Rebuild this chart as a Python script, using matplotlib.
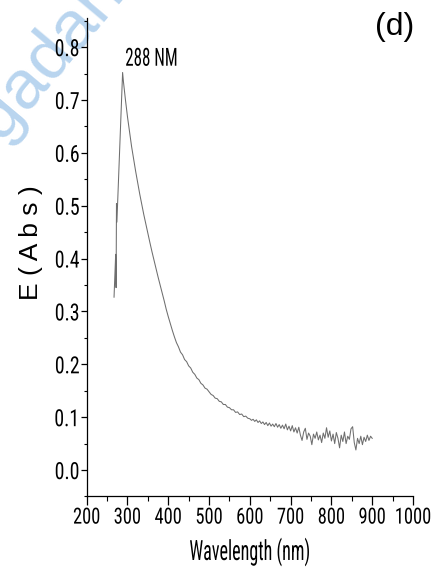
import os
import matplotlib
matplotlib.use("Agg")
import matplotlib.pyplot as plt
from matplotlib import font_manager
from matplotlib.patheffects import AbstractPathEffect
from matplotlib.ticker import MultipleLocator
from matplotlib.transforms import Affine2D

# absorbance spectrum (wavelength in nm, absorbance in a.u.)
wl_start = [267, 269, 271, 272, 273, 274, 277, 281, 285]
abs_start = [0.327, 0.368, 0.408, 0.345, 0.504, 0.469, 0.529, 0.610, 0.690]

wl_main = [288, 290, 295, 300, 305, 310, 315, 320, 325, 330, 335, 340, 345,
           350, 355, 360, 365, 370, 375, 380, 385, 390, 395, 400, 405, 410,
           415, 420, 425, 430, 435, 440, 445, 450, 455, 460, 465, 470, 475,
           480, 485, 490, 495, 500, 505, 510, 515, 520, 525, 530, 535, 540,
           545, 550, 555, 560, 565, 570, 575, 580, 585, 590, 595]
abs_main = [0.752, 0.735, 0.700, 0.668, 0.640, 0.612, 0.588, 0.565, 0.543,
            0.522, 0.502, 0.483, 0.465, 0.447, 0.430, 0.413, 0.397, 0.381,
            0.365, 0.350, 0.335, 0.320, 0.304, 0.290, 0.277, 0.264, 0.252,
            0.241, 0.233, 0.223, 0.218, 0.209, 0.205, 0.197, 0.193, 0.185,
            0.181, 0.174, 0.171, 0.164, 0.161, 0.155, 0.153, 0.148, 0.143,
            0.141, 0.136, 0.135, 0.130, 0.129, 0.124, 0.124, 0.119, 0.118,
            0.114, 0.114, 0.109, 0.110, 0.105, 0.106, 0.101, 0.102, 0.098]

wl_tail = [600, 604, 608, 612, 616, 620, 624, 628, 632, 636, 640, 644, 648,
           652, 656, 660, 664, 668, 672, 676, 680, 684, 688, 692, 696, 700,
           704, 708, 712, 716, 720, 724, 728, 732, 736, 740, 744, 748, 752,
           756, 760, 764, 768, 772, 776, 780, 784, 788, 792, 796, 800, 804,
           808, 812, 816, 820, 824, 828, 832, 836, 840, 844, 848, 852, 856,
           860, 864, 868, 872, 876, 880, 884, 888, 892, 896, 900]
abs_tail = [0.097, 0.094, 0.096, 0.092, 0.095, 0.090, 0.093, 0.088, 0.091,
            0.086, 0.090, 0.084, 0.089, 0.083, 0.087, 0.082, 0.088, 0.081,
            0.086, 0.079, 0.085, 0.078, 0.087, 0.076, 0.083, 0.074, 0.084,
            0.072, 0.080, 0.070, 0.081, 0.066, 0.056, 0.072, 0.079, 0.058,
            0.070, 0.064, 0.048, 0.068, 0.060, 0.072, 0.057, 0.066, 0.052,
            0.070, 0.060, 0.080, 0.062, 0.074, 0.055, 0.068, 0.050, 0.071,
            0.060, 0.042, 0.066, 0.054, 0.072, 0.050, 0.064, 0.058, 0.078,
            0.082, 0.052, 0.038, 0.060, 0.050, 0.064, 0.048, 0.062, 0.054,
            0.066, 0.056, 0.064, 0.060]

peak_wl = 288
peak_abs = 0.752

xticks = [200, 300, 400, 500, 600, 700, 800, 900, 1000]
yticks = [0.0, 0.1, 0.2, 0.3, 0.4, 0.5, 0.6, 0.7, 0.8]


class Squeeze(AbstractPathEffect):
    """Draw text narrower in screen x, keeping one edge (or the centre) fixed."""

    def __init__(self, factor, anchor="center"):
        super().__init__()
        self.factor = factor
        self.anchor = anchor

    def draw_path(self, renderer, gc, tpath, affine, rgbFace=None):
        box = tpath.get_extents(affine)
        cx = {"left": box.x0, "center": 0.5 * (box.x0 + box.x1), "right": box.x1}[self.anchor]
        squeeze = Affine2D().translate(-cx, 0).scale(self.factor, 1).translate(cx, 0)
        renderer.draw_path(gc, tpath, affine + squeeze, rgbFace)


def find_narrow_font():
    # plain regular condensed/narrow face, if the system has one
    skip = ("bold", "light", "thin", "medium", "black", "italic", "oblique",
            "semi", "extra", "ultra", "mono", "serif", "heavy")
    prefer = ("liberation", "arial", "roboto", "dejavu", "noto", "open")
    found = []
    for f in font_manager.fontManager.ttflist:
        tag = (f.name + " " + str(f.stretch) + " " + os.path.basename(f.fname)).lower()
        if "narrow" not in tag and "condensed" not in tag:
            continue
        if any(s in tag for s in skip) or f.style != "normal":
            continue
        if "sans serif" in tag:
            continue
        rank = next((i for i, p in enumerate(prefer) if p in tag), len(prefer))
        found.append((rank, f.fname))
    return sorted(found)[0][1] if found else None


narrow_file = find_narrow_font()
plt.rcParams["font.family"] = "Liberation Sans"


def style_text(txt, size, factor, anchor):
    if narrow_file:
        txt.set_fontproperties(font_manager.FontProperties(fname=narrow_file, size=size))
    else:
        txt.set_fontsize(size)
        factor *= 0.85
    if factor < 1:
        txt.set_path_effects([Squeeze(factor, anchor)])


fig = plt.figure(figsize=(4.34, 5.87), dpi=100)

# faint watermark behind the plot
fig.text(0.005, 0.755, "gadan  J", rotation=50, rotation_mode="anchor",
         ha="left", va="baseline", fontsize=50, color="#b9d5ef", zorder=-1)

ax = fig.add_axes([0.1998, 0.1542, 0.7518, 0.8151])
ax.patch.set_alpha(0)

wl = wl_start + wl_main + wl_tail
ab = abs_start + abs_main + abs_tail
ax.plot(wl, ab, color="#6e6e6e", lw=0.75)

peak_lbl = ax.text(peak_wl + 5.5, peak_abs + 0.026, "%d NM" % peak_wl,
                   ha="left", va="center")
style_text(peak_lbl, 18, 0.68, "left")

ax.set_xlim(200, 1000)
ax.set_ylim(-0.05, 0.855)
ax.set_xticks(xticks)
ax.set_yticks(yticks)
ax.set_xticklabels([str(v) for v in xticks])
ax.set_yticklabels(["%.1f" % v for v in yticks])
ax.xaxis.set_minor_locator(MultipleLocator(50))
ax.yaxis.set_minor_locator(MultipleLocator(0.05))

for side in ["top", "right"]:
    ax.spines[side].set_visible(False)
for side in ["left", "bottom"]:
    ax.spines[side].set_linewidth(0.9)
ax.tick_params(axis="x", which="major", direction="out", length=6.5, width=0.9, pad=1.5)
ax.tick_params(axis="x", which="minor", direction="out", length=3.6, width=0.8)
ax.tick_params(axis="y", which="major", direction="out", length=4.2, width=0.9, pad=0.8)
ax.tick_params(axis="y", which="minor", direction="out", length=2.4, width=0.8)

for lbl in ax.get_xticklabels():
    style_text(lbl, 16, 0.83, "center")
for lbl in ax.get_yticklabels():
    style_text(lbl, 17, 0.84, "right")

ax.set_xlabel("Wavelength (nm)", va="center")
style_text(ax.xaxis.label, 20, 0.65, "center")
ax.xaxis.set_label_coords(0.5, -0.116)
ax.set_ylabel("E ( A b s )", va="center", fontsize=19)
ax.yaxis.set_label_coords(-0.172, 0.53)

fig.text(0.91, 0.954, "(d)", fontsize=23, ha="center", va="center")

fig.savefig("out.png", dpi=100)
